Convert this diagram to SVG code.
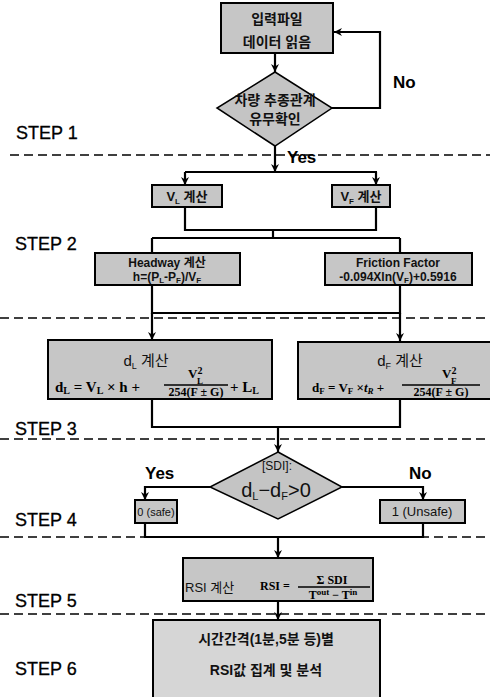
<svg xmlns="http://www.w3.org/2000/svg" width="490" height="697" viewBox="0 0 490 697">
<style>
.bg{fill:#fff}
.box{fill:#c6c6c6;stroke:#000;stroke-width:2}
.box2{fill:#d6d6d6;stroke:#000;stroke-width:2}
.dia{fill:#c4c4c4;stroke:#000;stroke-width:1.5}
.ln{fill:none;stroke:#000;stroke-width:2.2}
.arr{fill:none;stroke:#000;stroke-width:2.2;marker-end:url(#ah)}
.dash{fill:none;stroke:#000;stroke-width:1.6;stroke-dasharray:9 5}
.kr{font-family:"Liberation Sans","Noto Sans CJK KR",sans-serif;font-weight:bold;fill:#111;text-anchor:middle}
.krn{font-family:"Liberation Sans","Noto Sans CJK KR",sans-serif;font-weight:normal;fill:#111;text-anchor:middle}
.step{font-family:"Liberation Sans",Arial,sans-serif;font-size:18px;fill:#000;stroke:#000;stroke-width:0.3}
.lab{font-family:"Liberation Sans",Arial,sans-serif;font-size:17px;font-weight:bold;fill:#000}
.fm{font-family:"Liberation Serif","Times New Roman",serif;font-weight:bold;fill:#000}
.bar{stroke:#000;stroke-width:1.3}
</style>
<defs>
<marker id="ah" markerWidth="10" markerHeight="10" refX="9" refY="5" orient="auto" markerUnits="userSpaceOnUse">
<path d="M1,1 L9,5 L1,9 L3.5,5 z" fill="#000"/>
</marker>
</defs>
<rect class="bg" x="0" y="0" width="490" height="697"/>

<g id="dashes">
<line class="dash" x1="10" y1="155" x2="490" y2="155"/>
<line class="dash" x1="0" y1="318" x2="490" y2="318"/>
<line class="dash" x1="0" y1="439" x2="490" y2="439"/>
<line class="dash" x1="0" y1="537" x2="490" y2="537"/>
<line class="dash" x1="0" y1="614" x2="490" y2="614"/>
</g>

<g id="steps">
<text class="step" x="16" y="139">STEP 1</text>
<text class="step" x="15" y="250">STEP 2</text>
<text class="step" x="15" y="435">STEP 3</text>
<text class="step" x="15" y="526">STEP 4</text>
<text class="step" x="15" y="607">STEP 5</text>
<text class="step" x="15" y="675">STEP 6</text>
</g>

<g id="connectors">
<line class="arr" x1="275" y1="53" x2="275" y2="72"/>
<polyline class="arr" points="332,108 380,108 380,32 334,32"/>
<line class="arr" x1="275" y1="146" x2="275" y2="172"/>
<line class="ln" x1="185" y1="172" x2="377" y2="172"/>
<line class="arr" x1="185" y1="172" x2="185" y2="185"/>
<line class="arr" x1="376" y1="172" x2="376" y2="185"/>
<polyline class="ln" points="185,207 185,230 376,230 376,207"/>
<line class="ln" x1="273" y1="230" x2="273" y2="238"/>
<line class="ln" x1="152" y1="238" x2="400" y2="238"/>
<line class="ln" x1="152" y1="238" x2="152" y2="253"/>
<line class="ln" x1="400" y1="238" x2="400" y2="253"/>
<polyline class="ln" points="152,285 152,313 400,313 400,285"/>
<line class="arr" x1="152" y1="313" x2="152" y2="340"/>
<line class="arr" x1="400" y1="313" x2="400" y2="341"/>
<polyline class="ln" points="152,399 152,427 400,427 400,399"/>
<line class="arr" x1="278" y1="427" x2="278" y2="452"/>
<polyline class="arr" points="210,487 145,487 145,500"/>
<polyline class="arr" points="342,487 423,487 423,500"/>
<polyline class="ln" points="145,523 145,537 423,537 423,523"/>
<line class="arr" x1="278" y1="537" x2="278" y2="558"/>
<line class="arr" x1="278" y1="601" x2="278" y2="620"/>
<text class="lab" x="393" y="88">No</text>
<text class="lab" x="287" y="163">Yes</text>
<text class="lab" x="145" y="479">Yes</text>
<text class="lab" x="409" y="479">No</text>
</g>

<g id="n1">
<rect class="box" x="221" y="3" width="112" height="50"/>
<text class="kr" x="277" y="24" font-size="14">입력파일</text>
<text class="kr" x="277" y="47" font-size="14">데이터 읽음</text>
</g>

<g id="d1">
<polygon class="dia" points="275,72 332,108 275,146 217,108"/>
<text class="kr" x="275" y="105" font-size="14">차량 추종관계</text>
<text class="kr" x="275" y="124" font-size="14">유무확인</text>
</g>

<g id="vl">
<rect class="box" x="152" y="185" width="70" height="22"/>
<text class="kr" x="187" y="201" font-size="13">V<tspan font-size="8" dy="3">L</tspan><tspan dy="-3"> 계산</tspan></text>
</g>
<g id="vf">
<rect class="box" x="332" y="185" width="58" height="22"/>
<text class="kr" x="361" y="201" font-size="13">V<tspan font-size="8" dy="3">F</tspan><tspan dy="-3"> 계산</tspan></text>
</g>

<g id="headway">
<rect class="box" x="95" y="253" width="145" height="32"/>
<text class="kr" x="167" y="267" font-size="12">Headway 계산</text>
<text class="kr" x="167" y="281" font-size="12">h=(P<tspan font-size="8" dy="2">L</tspan><tspan dy="-2">-P</tspan><tspan font-size="8" dy="2">F</tspan><tspan dy="-2">)/V</tspan><tspan font-size="8" dy="2">F</tspan></text>
</g>
<g id="friction">
<rect class="box" x="325" y="253" width="147" height="32"/>
<text class="kr" x="398" y="267" font-size="12">Friction Factor</text>
<text class="kr" x="398" y="281" font-size="12">-0.094Xln(V<tspan font-size="8" dy="2">F</tspan><tspan dy="-2">)+0.5916</tspan></text>
</g>

<g id="dl">
<rect class="box" x="48" y="340" width="224" height="59"/>
<text class="krn" x="146" y="366" font-size="15">d<tspan font-size="9" dy="3">L</tspan><tspan dy="-3"> 계산</tspan></text>
<text class="fm" x="55" y="392" font-size="15">d<tspan font-size="10" dy="2">L</tspan><tspan dy="-2"> = V</tspan><tspan font-size="10" dy="2">L</tspan><tspan dy="-2"> × h +</tspan></text>
<line class="bar" x1="164" y1="385" x2="228" y2="385"/>
<text class="fm" x="188" y="378" font-size="13">V<tspan font-size="10" dy="-4">2</tspan></text>
<text class="fm" x="197" y="384" font-size="9">L</text>
<text class="fm" x="196" y="396" font-size="12" text-anchor="middle">254(F ± G)</text>
<text class="fm" x="230" y="392" font-size="15">+ L<tspan font-size="10" dy="2">L</tspan></text>
</g>

<g id="df">
<rect class="box" x="298" y="342" width="196" height="57"/>
<text class="krn" x="400" y="366" font-size="15">d<tspan font-size="9" dy="3">F</tspan><tspan dy="-3"> 계산</tspan></text>
<text class="fm" x="312" y="392" font-size="13">d<tspan font-size="9" dy="2">F</tspan><tspan dy="-2"> = V</tspan><tspan font-size="9" dy="2">F</tspan><tspan dy="-2"> ×</tspan><tspan font-style="italic">t</tspan><tspan font-size="9" font-style="italic" dy="2">R</tspan><tspan dy="-2"> +</tspan></text>
<line class="bar" x1="402" y1="385" x2="480" y2="385"/>
<text class="fm" x="442" y="378" font-size="13">V<tspan font-size="10" dy="-4">2</tspan></text>
<text class="fm" x="451" y="384" font-size="9">F</text>
<text class="fm" x="441" y="396" font-size="12" text-anchor="middle">254(F ± G)</text>
</g>

<g id="sdi">
<polygon class="dia" points="278,452 342,487 278,519 210,487"/>
<text class="krn" x="277" y="470" font-size="12">[SDI]:</text>
<text class="krn" x="276" y="497" font-size="20">d<tspan font-size="11" dy="3">L</tspan><tspan dy="-3">−d</tspan><tspan font-size="11" dy="3">F</tspan><tspan dy="-3">&gt;0</tspan></text>
</g>

<g id="safe">
<rect class="box" x="135" y="500" width="42" height="23"/>
<text class="krn" x="156" y="516" font-size="11">0 (safe)</text>
</g>
<g id="unsafe">
<rect class="box" x="380" y="500" width="85" height="23"/>
<text class="krn" x="422" y="516" font-size="13">1 (Unsafe)</text>
</g>

<g id="rsi">
<rect class="box" x="183" y="558" width="190" height="43"/>
<text class="krn" x="185" y="592" font-size="13" style="text-anchor:start">RSI 계산</text>
<text class="fm" x="260" y="590" font-size="12">RSI =</text>
<line class="bar" x1="298" y1="587" x2="370" y2="587"/>
<text class="fm" x="332" y="584" font-size="12" text-anchor="middle">Σ SDI</text>
<text class="fm" x="333" y="599" font-size="12" text-anchor="middle">T<tspan font-size="9" dy="-4">out</tspan><tspan dy="4"> − T</tspan><tspan font-size="9" dy="-4">in</tspan></text>
</g>

<g id="agg">
<rect class="box2" x="153" y="620" width="227" height="80"/>
<text class="kr" x="266" y="644" font-size="14">시간간격(1분,5분 등)별</text>
<text class="kr" x="266" y="675" font-size="14">RSI값 집계 및 분석</text>
</g>
</svg>
